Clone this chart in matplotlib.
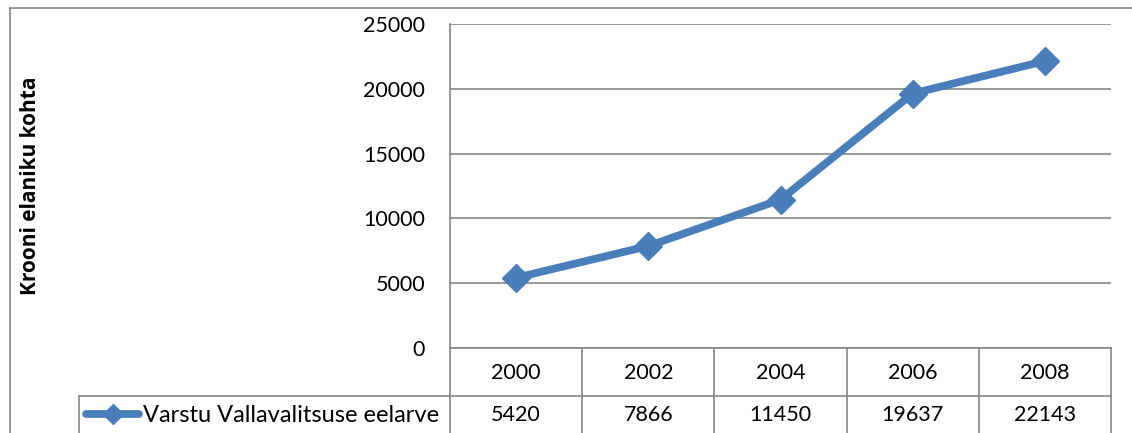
import matplotlib
matplotlib.use("Agg")
import matplotlib.pyplot as plt
from matplotlib.lines import Line2D

years = ["2000", "2002", "2004", "2006", "2008"]
values = [5420, 7866, 11450, 19637, 22143]
series_name = "Varstu Vallavalitsuse eelarve"
y_label = "Krooni elaniku kohta"
y_ticks = [0, 5000, 10000, 15000, 20000, 25000]

W, H = 1132, 433
DPI = 100
plt.rcParams['font.family'] = ['Lato', 'DejaVu Sans']
FS = 15.5
GRAY = '#868686'
BLUE = '#4A7EBB'

fig = plt.figure(figsize=(W / DPI, H / DPI), dpi=DPI)

def fx(px):
    return px / W

def fy(py):
    return 1 - py / H

# plot area in pixel coords
PL, PR, PT, PB = 450, 1111, 24, 348
ax = fig.add_axes([fx(PL), fy(PB), fx(PR) - fx(PL), fy(PT) - fy(PB)])
ax.set_xlim(-0.5, len(years) - 0.5)
ax.set_ylim(0, 25000)
ax.set_yticks(y_ticks)
ax.set_yticklabels([str(t) for t in y_ticks], fontsize=FS)
ax.set_xticks([])
ax.tick_params(axis='y', length=0, pad=18)
for s in ['top', 'right', 'bottom']:
    ax.spines[s].set_visible(False)
ax.spines['left'].set_color(GRAY)
ax.spines['left'].set_linewidth(1.2)
ax.grid(axis='y', color=GRAY, linewidth=1.2)
ax.set_axisbelow(True)

ax.plot(range(len(years)), values, color=BLUE, linewidth=5.6,
        marker='D', markersize=14, markerfacecolor=BLUE, markeredgecolor=BLUE,
        solid_capstyle='round', solid_joinstyle='round', clip_on=False, zorder=3)

# y label
fig.text(fx(31), fy(186), y_label, rotation=90, fontsize=15, fontweight='bold',
         family=['Open Sans', 'DejaVu Sans'], ha='center', va='center')

def hline(x0, x1, y):
    fig.add_artist(Line2D([fx(x0), fx(x1)], [fy(y), fy(y)], transform=fig.transFigure,
                          color=GRAY, linewidth=1.2))

def vline(x, y0, y1):
    fig.add_artist(Line2D([fx(x), fx(x)], [fy(y0), fy(y1)], transform=fig.transFigure,
                          color=GRAY, linewidth=1.2))

# outer chart border
hline(10, W + 5, 8)
vline(10, 8, H + 5)

# data table
ROW1_T, ROW2_T, ROW_B = 348, 396, H + 20
LEG_L = 79
colw = (PR - PL) / len(years)
hline(PL, PR, ROW1_T)
hline(LEG_L, PR, ROW2_T)
vline(LEG_L, ROW2_T, ROW_B)
for i in range(len(years) + 1):
    vline(PL + i * colw, ROW1_T, ROW_B)
for i, (yr, v) in enumerate(zip(years, values)):
    cx = PL + (i + 0.5) * colw
    fig.text(fx(cx), fy(373), yr, fontsize=FS, ha='center', va='center')
    fig.text(fx(cx), fy(415), str(v), fontsize=FS, ha='center', va='center')

# legend key in table
fig.add_artist(Line2D([fx(86), fx(139)], [fy(414), fy(414)], transform=fig.transFigure,
                      color=BLUE, linewidth=5.6, solid_capstyle='round'))
fig.add_artist(Line2D([fx(113)], [fy(414)], transform=fig.transFigure,
                      color=BLUE, marker='D', markersize=10, linestyle='none'))
fig.text(fx(143), fy(415), series_name, fontsize=17, ha='left', va='center')

fig.savefig("out.png", dpi=DPI)
